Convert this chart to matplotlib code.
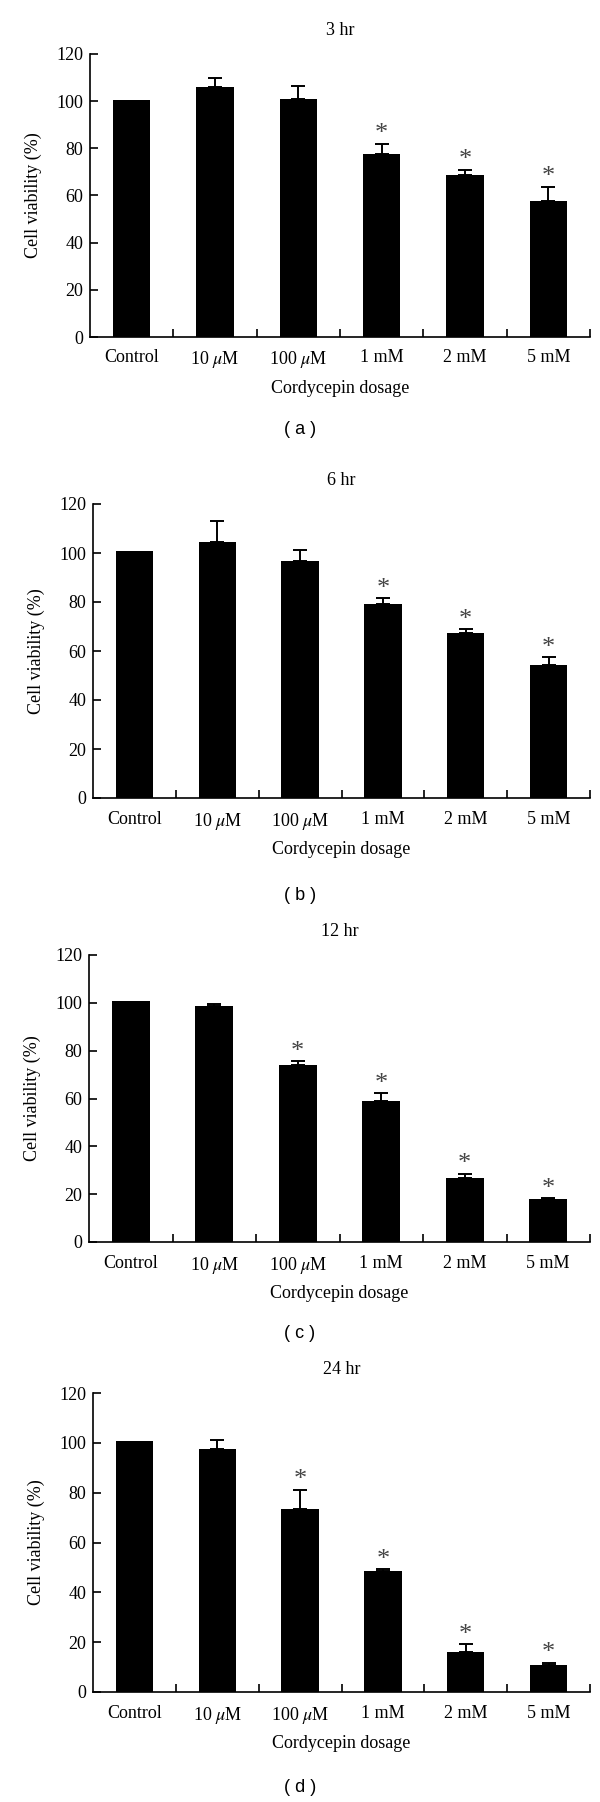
import matplotlib
matplotlib.use('Agg')
import matplotlib.pyplot as plt

plt.rcParams['font.family'] = ['Liberation Serif', 'DejaVu Serif']
plt.rcParams['mathtext.fontset'] = 'stix'

# ── data ────────────────────────────────────────────────────────────────────
doses = ['Control', r'10 $\mu$M', r'100 $\mu$M', '1 mM', '2 mM', '5 mM']
titles = ['3 hr', '6 hr', '12 hr', '24 hr']
tags = ['( a )', '( b )', '( c )', '( d )']

viab_3h = [100.3, 106.0, 100.9, 77.4, 68.6, 57.8]
err_3h = [0.0, 4.0, 5.6, 4.5, 2.3, 5.8]
star_3h = [False, False, False, True, True, True]

viab_6h = [101.0, 104.4, 96.8, 79.3, 67.4, 54.2]
err_6h = [0.0, 8.6, 4.5, 2.2, 1.4, 3.2]
star_6h = [False, False, False, True, True, True]

viab_12h = [100.8, 98.6, 74.0, 58.9, 26.7, 17.8]
err_12h = [0.0, 0.8, 1.5, 3.3, 1.7, 0.5]
star_12h = [False, False, True, True, True, True]

viab_24h = [100.9, 97.7, 73.5, 48.4, 15.9, 10.9]
err_24h = [0.0, 3.3, 7.7, 0.9, 3.3, 0.9]
star_24h = [False, False, True, True, True, True]
# ─────────────────────────────────────────────────────────────────────────────

W, H = 600, 1802
fig = plt.figure(figsize=(W / 100, H / 100), dpi=100)

# axes boxes in pixels: left, top, right, bottom
boxes = [(90, 54, 590, 337), (93, 504, 590, 798),
         (89, 955, 590, 1242), (93, 1393, 590, 1692)]
tag_y = [430, 896, 1334, 1787]

panels = [(viab_3h, err_3h, star_3h), (viab_6h, err_6h, star_6h),
          (viab_12h, err_12h, star_12h), (viab_24h, err_24h, star_24h)]

x = list(range(len(doses)))
FS = 13

for i, (vals, errs, stars) in enumerate(panels):
    l, t, r, b = boxes[i]
    ax = fig.add_axes([l / W, 1 - b / H, (r - l) / W, (b - t) / H])
    ax.bar(x, vals, width=0.45, color='black', zorder=2)
    # one-sided error bars, only where there is an error
    ex = [xi for xi, e in zip(x, errs) if e > 0]
    ev = [v for v, e in zip(vals, errs) if e > 0]
    ee = [e for e in errs if e > 0]
    ax.errorbar(ex, ev, yerr=[[0] * len(ee), ee], fmt='none',
                ecolor='black', elinewidth=1.4, capsize=5, capthick=1.4, zorder=3)
    for xi, v, e, s in zip(x, vals, errs, stars):
        if s:
            ax.annotate('*', (xi, v + e), xytext=(0, -1), textcoords='offset points',
                        ha='center', va='bottom', fontsize=19, color='#444444')

    ax.set_xlim(-0.5, len(doses) - 0.5)
    ax.set_ylim(0, 120)
    ax.set_yticks(range(0, 121, 20))
    ax.set_xticks(x)
    ax.set_xticklabels(doses)
    ax.set_xticks([k + 0.5 for k in x], minor=True)
    ax.tick_params(axis='x', which='major', length=0, pad=9, labelsize=FS)
    ax.tick_params(axis='x', which='minor', direction='in', length=6, width=1.2)
    ax.tick_params(axis='y', direction='in', length=6, width=1.2, pad=5, labelsize=FS)
    for side in ('top', 'right'):
        ax.spines[side].set_visible(False)
    for side in ('left', 'bottom'):
        ax.spines[side].set_linewidth(1.2)

    ax.set_title(titles[i], fontsize=FS, pad=14)
    ax.set_xlabel('Cordycepin dosage', fontsize=FS, labelpad=7)
    ax.set_ylabel('Cell viability (%)', fontsize=FS, labelpad=10)

    fig.text(0.5, 1 - tag_y[i] / H, tags[i], ha='center', va='center',
             fontsize=13, family=['Liberation Sans', 'DejaVu Sans'])

fig.savefig('out.png', dpi=100)
